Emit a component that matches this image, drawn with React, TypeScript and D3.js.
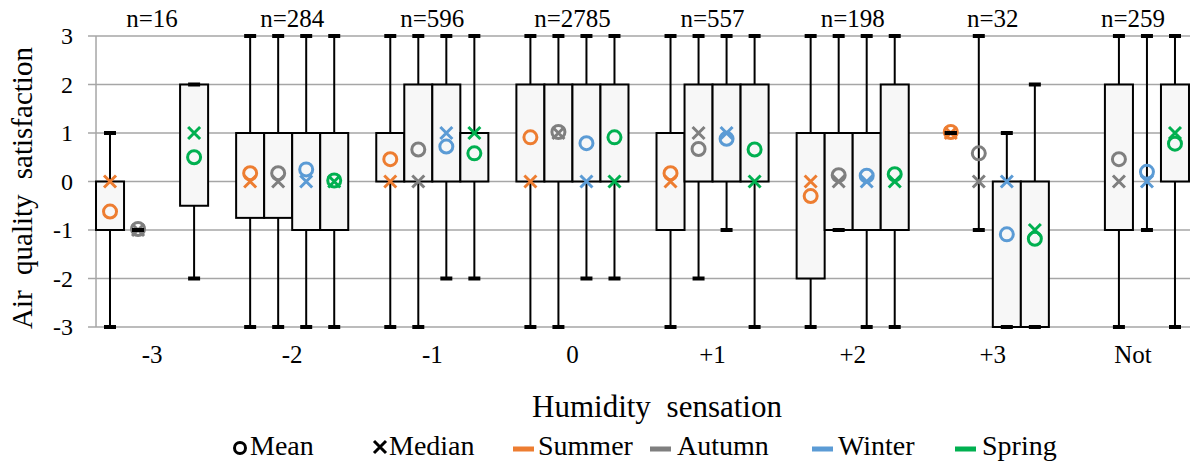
import React, { useEffect } from 'react';
import * as d3 from 'd3';

// humidity sensation groups
const categories = ['-3', '-2', '-1', '0', '+1', '+2', '+3', 'Not'];
const counts = [16, 284, 596, 2785, 557, 198, 32, 259];
const seasons = ['Summer', 'Autumn', 'Winter', 'Spring'];
const seasonColors = ['#ED7D31', '#7F7F7F', '#5B9BD5', '#00B050'];
const yTicks = [-3, -2, -1, 0, 1, 2, 3];

// [min, q1, median, q3, max, mean] per category, null = no data
type Stat = [number, number, number, number, number, number] | null;
const summer: Stat[] = [
  [-3, -1, 0, 0, 1, -0.62],
  [-3, -0.75, 0, 1, 3, 0.17],
  [-3, 0, 0, 1, 3, 0.46],
  [-3, 0, 0, 2, 3, 0.91],
  [-3, -1, 0, 1, 3, 0.17],
  [-3, -2, 0, 1, 3, -0.3],
  [1, 1, 1, 1, 1, 1.02],
  null,
];
const autumn: Stat[] = [
  [-1, -1, -1, -1, -1, -0.98],
  [-3, -0.75, 0, 1, 3, 0.17],
  [-3, 0, 0, 2, 3, 0.66],
  [-3, 0, 1, 2, 3, 1.02],
  [-2, 0, 1, 2, 3, 0.67],
  [-1, -1, 0, 1, 3, 0.13],
  [-1, 0, 0, 0, 3, 0.58],
  [-3, -1, 0, 2, 3, 0.46],
];
const winter: Stat[] = [
  null,
  [-3, -1, 0, 1, 3, 0.25],
  [-2, 0, 1, 2, 3, 0.72],
  [-2, 0, 0, 2, 3, 0.79],
  [-1, 0, 1, 2, 3, 0.88],
  [-3, -1, 0, 1, 3, 0.12],
  [-3, -3, 0, 0, 1, -1.09],
  [-1, 0, 0, 0, 3, 0.2],
];
const spring: Stat[] = [
  [-2, -0.5, 1, 2, 2, 0.5],
  [-3, -1, 0, 1, 3, 0.02],
  [-2, 0, 1, 1, 3, 0.58],
  [-2, 0, 0, 2, 3, 0.91],
  [-3, 0, 0, 2, 3, 0.66],
  [-3, -1, 0, 2, 3, 0.15],
  [-3, -3, -1, 0, 2, -1.18],
  [-3, 0, 1, 2, 3, 0.78],
];
const seriesData = [summer, autumn, winter, spring];

const W = 1190;
const H = 464;
const FONT = "'Liberation Serif', Tinos, 'Times New Roman', 'DejaVu Serif', serif";

const x = d3.scaleBand().domain(categories).range([82, 1203]);
const xs = d3.scaleBand().domain(seasons).range([0, x.bandwidth()]).paddingOuter(0.5);
const y = d3.scaleLinear().domain([-3, 3]).range([327, 36]);
const axisX = (x(categories[0]) ?? 0) + (xs(seasons[0]) ?? 0);

function Cross({ cx, cy, s, color }: { cx: number; cy: number; s: number; color: string }) {
  return (
    <path
      d={`M${cx - s},${cy - s}L${cx + s},${cy + s}M${cx - s},${cy + s}L${cx + s},${cy - s}`}
      stroke={color}
      strokeWidth={3}
      fill="none"
    />
  );
}

export default function App() {
  useEffect(() => {
    document.body.style.margin = '0';
  }, []);

  const boxes = seriesData.flatMap((series, si) =>
    series.map((d, ci) => {
      if (!d) return null;
      const [mn, q1, med, q3, mx, mean] = d;
      const x0 = (x(categories[ci]) ?? 0) + (xs(seasons[si]) ?? 0);
      const bw = xs.bandwidth();
      return { key: `${si}-${ci}`, x0, bw, cx: x0 + bw / 2, mn, q1, med, q3, mx, mean, color: seasonColors[si] };
    })
  ).filter(Boolean) as any[];

  return (
    <svg width={W} height={H} style={{ position: 'absolute', left: 0, top: 0, background: '#fff', fontFamily: FONT }}>
      {/* grid */}
      {yTicks.map((t) => (
        <line key={t} x1={axisX - 8} x2={W} y1={y(t)} y2={y(t)} stroke="#A6A6A6" strokeWidth={1.5} />
      ))}
      <line x1={axisX} x2={axisX} y1={y(3)} y2={y(-3)} stroke="#A6A6A6" strokeWidth={1.5} />
      {yTicks.map((t) => (
        <text key={t} x={73} y={y(t)} dy="0.35em" textAnchor="end" fontSize={24} fill="#000">
          {t}
        </text>
      ))}

      {/* whiskers */}
      {boxes.map((b) => (
        <line key={b.key} x1={b.cx} x2={b.cx} y1={y(b.mx)} y2={y(b.mn)} stroke="#000" strokeWidth={2} />
      ))}
      {/* boxes */}
      {boxes.map((b) => (
        <rect
          key={b.key}
          x={b.x0}
          width={b.bw}
          y={y(b.q3)}
          height={Math.max(0, y(b.q1) - y(b.q3))}
          fill="#F7F7F7"
          stroke="#000"
          strokeWidth={2}
        />
      ))}
      {/* median and mean markers */}
      {boxes.map((b) => (
        <g key={b.key}>
          <Cross cx={b.cx} cy={y(b.med)} s={6} color={b.color} />
          <circle cx={b.cx} cy={y(b.mean)} r={6.5} fill="none" stroke={b.color} strokeWidth={3} />
        </g>
      ))}
      {/* whisker caps */}
      {boxes.map((b) => (
        <g key={b.key}>
          <line x1={b.cx - 6} x2={b.cx + 6} y1={y(b.mx)} y2={y(b.mx)} stroke="#000" strokeWidth={4} />
          <line x1={b.cx - 6} x2={b.cx + 6} y1={y(b.mn)} y2={y(b.mn)} stroke="#000" strokeWidth={4} />
        </g>
      ))}

      {/* n labels */}
      {categories.map((c, i) => (
        <text key={c} x={(x(c) ?? 0) + x.bandwidth() / 2} y={27} textAnchor="middle" fontSize={25} fill="#000">
          n={counts[i]}
        </text>
      ))}
      {/* category labels */}
      {categories.map((c) => (
        <text key={c} x={(x(c) ?? 0) + x.bandwidth() / 2} y={363} textAnchor="middle" fontSize={25} fill="#000">
          {c}
        </text>
      ))}

      {/* axis titles */}
      <text x={657} y={417} textAnchor="middle" fontSize={31} wordSpacing={8} fill="#000">
        Humidity sensation
      </text>
      <text transform={`translate(32,188) rotate(-90)`} textAnchor="middle" fontSize={29} wordSpacing={8} fill="#000">
        Air quality satisfaction
      </text>

      {/* legend */}
      <g fontSize={28} fill="#000">
        <circle cx={240} cy={448} r={5.5} fill="none" stroke="#000" strokeWidth={3} />
        <text x={250} y={455}>Mean</text>
        <Cross cx={380} cy={447} s={6} color="#000" />
        <text x={389} y={455}>Median</text>
        {[
          [513, 538],
          [650, 677],
          [812, 838],
          [955, 982],
        ].map(([lx, tx], i) => (
          <g key={seasons[i]}>
            <rect x={lx} y={446.5} width={21} height={5} fill={seasonColors[i]} />
            <text x={tx} y={455}>{seasons[i]}</text>
          </g>
        ))}
      </g>
    </svg>
  );
}
